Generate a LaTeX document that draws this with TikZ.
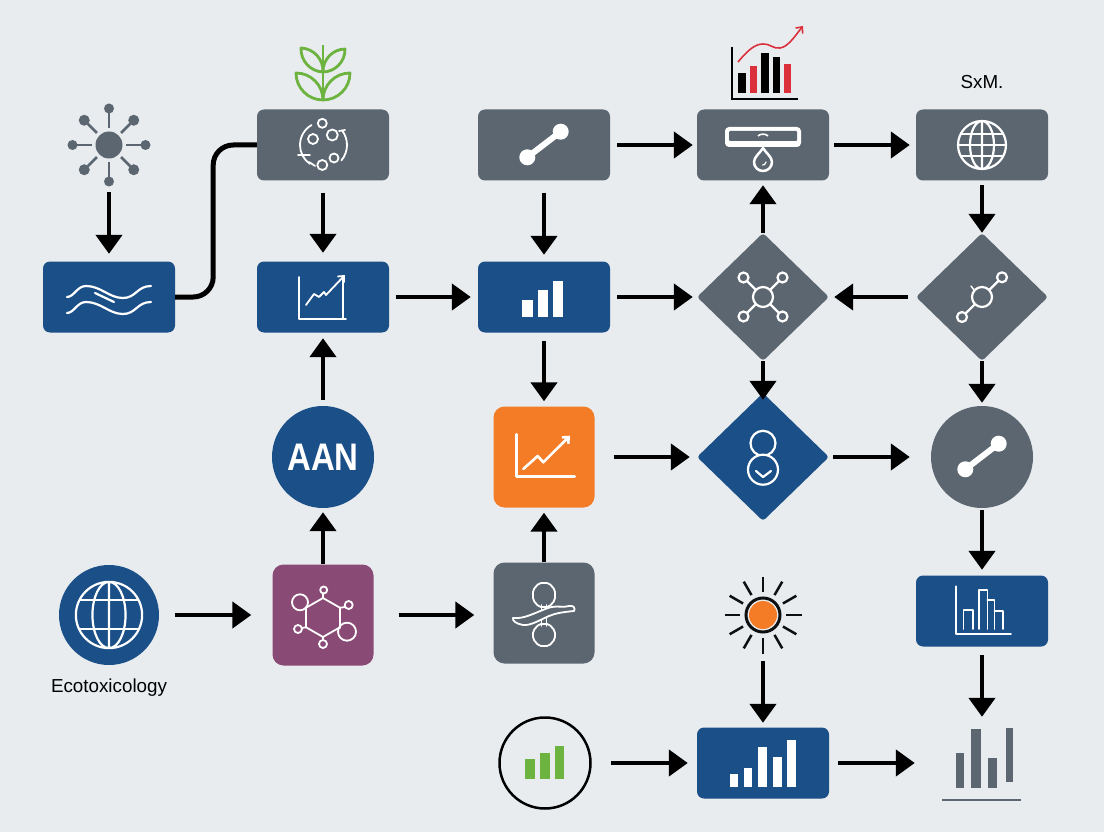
\documentclass[tikz,border=0pt]{standalone}
\usepackage{fontspec}
\setmainfont{Liberation Sans}
\usepackage{xcolor}
\usetikzlibrary{shapes.geometric, arrows.meta, positioning}
\definecolor{paper}{HTML}{E8ECEF}
\definecolor{navy}{HTML}{1B4F87}
\definecolor{slate}{HTML}{5C6670}
\definecolor{tangerine}{HTML}{F57C26}
\definecolor{plum}{HTML}{8A4A76}
\definecolor{leaf}{HTML}{6DB33F}
\definecolor{alert}{HTML}{DC2F3C}

\begin{document}
\begin{tikzpicture}[
    x=1pt, y=-1pt, on grid,
    box/.style={rectangle, rounded corners=7pt, minimum width=132pt, minimum height=71pt, inner sep=0pt},
    tile/.style={rectangle, rounded corners=11pt, minimum size=101pt, inner sep=0pt},
    disc/.style={circle, minimum size=102pt, inner sep=0pt},
    rhomb/.style={diamond, aspect=1, rounded corners=3pt, minimum width=132pt, minimum height=128pt, inner sep=0pt},
    glyph/.style={circle, minimum size=82pt, inner sep=0pt},
    caption/.style={font=\fontsize{18.8}{22}\selectfont, text=black},
    arrow/.style={-{Triangle[length=19pt,width=26pt]}, line width=4.5pt, shorten >=7pt, shorten <=7pt},
    gaps/.style 2 args={shorten <=#1pt, shorten >=#2pt},
    pipe/.style={line width=5pt, rounded corners=20pt},
    iconline/.style={draw=white, line width=2.2pt, line cap=round, line join=round},
    barb/.style={-{Straight Barb[length=5pt,width=9pt]}},
    pics/linkicon/.style={code={
        \draw[white, line width=6pt] (-16.7,12.3) -- (16.7,-13.3);
        \fill[white] (-16.7,12.3) circle (8) (16.7,-13.3) circle (8);
    }},
    pics/globeicon/.style={code={
        \draw[iconline] (0,0) circle (24) (0,0) ellipse (12 and 24) (0,-24) -- (0,24);
        \begin{scope}
            \clip (0,0) circle (24);
            \foreach \h in {#1} \draw[iconline] (-24,\h) -- (24,\h);
        \end{scope}
    }},
]

\fill[paper] (0,0) rectangle (1104,832);
\useasboundingbox (0,0) rectangle (1104,832);

\node[box, fill=navy] (waves) at (109,297) {};
\node[glyph, above=152pt of waves] (hub) {};
\node[box, fill=navy, right=214pt of waves] (trend) {};
\node[box, fill=slate, above=152pt of trend] (cycle) {};
\node[disc, fill=navy, text=white, font=\fontsize{34}{34}\selectfont\bfseries, below=160pt of trend] (aan) {\scalebox{0.97}[1.13]{AAN}};
\node[tile, fill=plum, below=158pt of aan] (hexa) {};
\node[disc, fill=navy, minimum size=100pt, left=214pt of hexa] (earth) {};
\node[caption, below=73pt of earth] (ecolabel) {Ecotoxicology};
\node[box, fill=navy, right=221pt of trend] (bars) {};
\node[box, fill=slate, above=152pt of bars] (link) {};
\node[tile, fill=tangerine, below=160pt of bars] (growth) {};
\node[tile, fill=slate, below=156pt of growth] (strand) {};
\node[rhomb, fill=slate, right=219pt of bars] (net) {};
\node[box, fill=slate, above=152pt of net] (tap) {};
\node[rhomb, fill=navy, below=160pt of net] (check) {};
\node[glyph, below=158pt of check] (sun) {};
\node[box, fill=navy, below=148pt of sun] (steps) {};
\node[circle, draw=black, line width=2.5pt, minimum size=91pt, inner sep=0pt, left=218pt of steps] (ring) {};
\node[box, fill=slate, right=219pt of tap] (world) {};
\node[caption, above=63pt of world] (sxm) {SxM.};
\node[rhomb, fill=slate, below=152pt of world] (fork) {};
\node[disc, fill=slate, below=160pt of fork] (joint) {};
\node[box, fill=navy, below=154pt of joint] (histo) {};
\node[rectangle, minimum width=80pt, minimum height=72pt, inner sep=0pt, below=152pt of histo] (result) {};
\coordinate[above=73pt of cycle] (plant);
\coordinate[above=85pt of tap] (report);

\begin{scope}[shift={(hub.center)}]
    \fill[slate] (0,0) circle (13.5);
    \foreach \a in {0,90,...,270} {
        \draw[slate, line width=2.5pt] (\a:17) -- (\a:32);
        \fill[slate] (\a:36.5) circle (5);
    }
    \foreach \a in {45,135,...,315} {
        \draw[slate, line width=2.5pt] (\a:17) -- (\a:30);
        \fill[slate] (\a:35) circle (5.5);
    }
\end{scope}

\begin{scope}[shift={(plant)}, leaf, line width=2.8pt, line join=round]
    \draw (0,-27) -- (0,28);
    \draw (0,0) to[bend left=45] (-22,-24) to[bend left=45] (0,0);
    \draw (0,0) to[bend right=45] (22,-23) to[bend right=45] (0,0);
    \draw (0,28) to[bend left=45] (-27,1) to[bend left=45] (0,28);
    \draw (0,28) to[bend right=45] (27,1) to[bend right=45] (0,28);
\end{scope}

\begin{scope}[shift={(waves.center)}]
    \draw[iconline] (-42,0) .. controls (-35,0) and (-32,-11) .. (-23,-11) .. controls (-8,-11) and (0,1) .. (14,1) .. controls (27,1) and (28,-11) .. (42,-11);
    \draw[iconline] (-42,16) .. controls (-35,16) and (-32,5) .. (-23,5) .. controls (-8,5) and (0,17) .. (14,17) .. controls (27,17) and (28,5) .. (42,5);
    \draw[iconline] (-14,-4) -- (5,5);
\end{scope}

\begin{scope}[shift={(cycle.center)}]
    \draw[iconline, line width=1.8pt] (240:23) arc[start angle=240, end angle=125, radius=23];
    \draw[iconline, line width=1.8pt] (-8,21) -- (-14,17);
    \draw[iconline, line width=1.8pt] (-25,10) -- (-13,10);
    \draw[iconline, line width=1.8pt] (-37:24) arc[start angle=-37, end angle=40, radius=24];
    \draw[iconline, line width=1.8pt] (16,-14) -- (22,-15);
    \draw[iconline, line width=1.8pt] (-0.7,-21.7) circle (4.5) (-10,-6) circle (5) (9.3,-10) circle (5.5) (-0.7,20) circle (5) (11,13) circle (4.5);
\end{scope}

\begin{scope}[shift={(trend.center)}]
    \draw[iconline, line width=1.8pt] (-24,-20) -- (-24,22) -- (23,22);
    \draw[iconline, line width=1.8pt] (20,-20) -- (20,22);
    \draw[iconline, barb, line width=1.8pt] (-17,8) -- (-9,-3) -- (-4,0) -- (1,-5) -- (3,-2) -- (22,-22);
\end{scope}

\pic at (link.center) {linkicon};

\begin{scope}[shift={(bars.center)}]
    \fill[white] (-21.7,3) rectangle (-11,19.5);
    \fill[white] (-6,-7.5) rectangle (4.3,19.5);
    \fill[white] (9,-16) rectangle (19.3,19.5);
\end{scope}

\begin{scope}[shift={(report)}]
    \draw[black, line width=2pt] (-31,-13) -- (-31,39) -- (35,39);
    \fill[black] (-25,13) rectangle (-17,33);
    \fill[alert] (-13,6) rectangle (-6,33);
    \fill[black] (-2,-7) rectangle (6,33);
    \fill[black] (10,-3) rectangle (17,33);
    \fill[alert] (21,4) rectangle (28,33);
    \draw[alert, line width=1.6pt, barb] (-25,2) .. controls (-15,-10) and (-8,-16) .. (0,-16) .. controls (8,-16) and (10,-11) .. (17,-12) .. controls (25,-13) and (32,-24) .. (40,-34);
\end{scope}

\begin{scope}[shift={(tap.center)}]
    \fill[white, rounded corners=4pt] (-38,-18) rectangle (38,2);
    \fill[slate, rounded corners=1pt] (-34,-14) rectangle (34,-4);
    \draw[white, line width=1.6pt] (-5,-9) .. controls (-3,-11.5) and (3,-11.5) .. (5,-9);
    \draw[iconline, line width=2.5pt, fill=slate] (0,3) .. controls (3,8) and (9,12) .. (9,17) arc[start angle=0, end angle=180, radius=9] .. controls (-9,12) and (-3,8) .. (0,3);
    \draw[iconline, line width=1.2pt] (3,17) arc[start angle=0, end angle=100, radius=3];
\end{scope}

\pic at (world.center) {globeicon={-11,0,11}};

\begin{scope}[shift={(net.center)}]
    \foreach \p in {(-19.5,-19.5),(19.5,-19.5),(-19.5,19.5),(19.5,19.5)} {
        \draw[iconline] (0,0) -- \p;
        \draw[iconline, fill=slate] \p circle (5);
    }
    \draw[iconline, fill=slate] (0,0) circle (10);
\end{scope}

\begin{scope}[shift={(fork.center)}]
    \draw[iconline] (-20,20) -- (20,-19.7);
    \draw[iconline, fill=slate] (-20,20) circle (5);
    \draw[iconline, fill=slate] (20,-19.7) circle (5);
    \draw[iconline, fill=slate] (0,0) circle (10);
    \draw[iconline, line width=1.4pt] (-11,-11) -- (-8,-7);
\end{scope}

\begin{scope}[shift={(check.center)}]
    \draw[iconline] (0,-13.7) circle (12.5);
    \draw[iconline, fill=navy] (0,12.7) circle (15);
    \draw[iconline] (-7,14) -- (0,20) -- (8,14);
\end{scope}

\pic at (joint.center) {linkicon};
\pic[scale=1.38] at (earth.center) {globeicon={-11,10}};

\begin{scope}[shift={(hexa.center)}]
    \draw[iconline, line width=1.8pt] (0,-17) -- (17,-7.25) -- (17,12.25) -- (0,22) -- (-17,12.25) -- (-17,-7.25) -- cycle;
    \draw[iconline, line width=1.8pt] (0,-17) -- (0,-21.5) (0,22) -- (0,25) (-17,-7.25) -- (-17.5,-7.5) (17,-7.25) -- (22,-8) (-17,12.25) -- (-21,13) (17,12.25) -- (17,13);
    \draw[iconline, line width=1.8pt] (0.7,-25) circle (3.5) (-23,-12.7) circle (8) (25.7,-10) circle (4) (-25,14) circle (4) (24,16.7) circle (9) (0,29) circle (4);
\end{scope}

\begin{scope}[shift={(growth.center)}]
    \draw[iconline, line width=2.6pt] (-27.3,-22.7) -- (-27.3,19.7) -- (30.7,19.7);
    \draw[iconline, barb, line width=2.6pt] (-20.7,12) -- (-6.3,-1) -- (-0.7,5.3) -- (26,-21.3);
\end{scope}

\begin{scope}[shift={(strand.center)}]
    \draw[iconline, line width=1.8pt] (-2.5,-8) -- (-2.5,13) (2.5,-8) -- (2.5,13);
    \draw[iconline, line width=1.8pt, rounded corners=2pt] (-5,-30) -- (5,-30) -- (11,-23) -- (11,-13) -- (5,-6) -- (-5,-6) -- (-11,-13) -- (-11,-23) -- cycle;
    \draw[iconline, line width=1.8pt, rounded corners=2pt] (-5,11) -- (5,11) -- (11,18) -- (11,26) -- (5,33) -- (-5,33) -- (-11,26) -- (-11,18) -- cycle;
    \draw[iconline, line width=1.8pt, fill=slate] (-31,5) .. controls (-20,6) and (-12,1) .. (4,-5) .. controls (12,-8) and (20,-5) .. (25,-7) .. controls (29,-8) and (32,-5) .. (30,-2) .. controls (20,-1) and (12,0) .. (5,3) .. controls (-4,7) and (-14,13) .. (-21,12) .. controls (-27,11) and (-32,8) .. (-31,5) -- cycle;
\end{scope}

\begin{scope}[shift={(sun.center)}]
    \foreach \a in {0,30,...,330} \draw[black!85!slate, line width=2.5pt] (\a:23) -- (\a:38.5);
    \fill[tangerine] (0,0) circle (14);
    \draw[black!85!slate, line width=3pt] (0,0) circle (17);
\end{scope}

\begin{scope}[shift={(ring.center)}, leaf]
    \fill (-19.6,-4.3) rectangle (-10,16.3);
    \fill (-5,-10) rectangle (4.7,16.3);
    \fill (9.6,-16.7) rectangle (19,16.3);
\end{scope}

\begin{scope}[shift={(steps.center)}, white]
    \fill (-33,11.3) rectangle (-25,24);
    \fill (-19,4.7) rectangle (-11,24);
    \fill (-4.6,-16) rectangle (4.3,24);
    \fill (10,-6) rectangle (19,24);
    \fill (24,-22.7) rectangle (33,24);
\end{scope}

\begin{scope}[shift={(histo.center)}]
    \draw[iconline, line width=1.8pt] (-25.7,-24.7) -- (-25.7,22.7) -- (29,22.7);
    \draw[iconline, line width=1.8pt] (-18.6,18) -- (-18.6,-1.3) -- (-9,-1.3) -- (-9,18);
    \draw[iconline, line width=1.8pt] (-3.2,18) -- (-3.2,-21.3) -- (5.4,-21.3) -- (5.4,18);
    \draw[iconline, line width=1.8pt] (5.4,-11.3) -- (12.5,-11.3) -- (12.5,18);
    \draw[iconline, line width=1.8pt] (12.5,0.3) -- (20.7,0.3) -- (20.7,18);
\end{scope}

\begin{scope}[shift={(result.center)}, slate]
    \fill (-26.4,-9.7) rectangle (-17.9,24.7);
    \fill (-10.7,-34) rectangle (-1.4,24.7);
    \fill (6.4,-4.7) rectangle (15.4,24.7);
    \fill (23.5,-35) rectangle (31.4,18.7);
    \draw[line width=2.5pt] (-40,37) -- (39.3,37);
\end{scope}

\draw[arrow, gaps={6}{7.5}] (hub) -- (waves);
\draw[pipe] (waves.east) -- ++(38pt,0) |- (cycle.west);
\draw[arrow, gaps={12}{8.5}] (cycle) -- (trend);
\draw[arrow, gaps={6}{5.5}] (aan) -- (trend);
\draw[arrow, gaps={0}{4}] (hexa) -- (aan);
\draw[arrow, gaps={16}{21}] (earth) -- (hexa);
\draw[arrow, gaps={25}{19}] (hexa.east) -- (hexa.east -| strand.west);
\draw[arrow, gaps={0}{5}] (strand) -- (growth);
\draw[arrow, gaps={8.5}{5}] (bars) -- (growth);
\draw[arrow, gaps={12}{6.5}] (link) -- (bars);
\draw[arrow] (trend) -- (bars);
\draw[arrow, gaps={7}{4}] (link) -- (tap);
\draw[arrow, gaps={7}{4}] (bars) -- (net);
\draw[arrow, gaps={0}{4.5}] (net) -- (tap);
\draw[arrow, gaps={5}{6}] (tap) -- (world);
\draw[arrow, gaps={4.5}{0}] (world) -- (fork);
\draw[arrow, gaps={8}{5}] (fork) -- (net);
\draw[arrow, gaps={0}{3}] (fork) -- (joint);
\draw[arrow, gaps={0}{-7}] (net) -- (check);
\draw[arrow, gaps={19}{7}] (growth) -- (check);
\draw[arrow, gaps={4}{21}] (check) -- (joint);
\draw[arrow, gaps={2}{5.5}] (joint) -- (histo);
\draw[arrow, gaps={8.5}{10}] (histo) -- (result);
\draw[arrow, gaps={5}{4.5}] (sun) -- (steps);
\draw[arrow, gaps={19}{9}] (ring) -- (steps);
\draw[arrow, gaps={9}{27}] (steps) -- (result);

\end{tikzpicture}
\end{document}
